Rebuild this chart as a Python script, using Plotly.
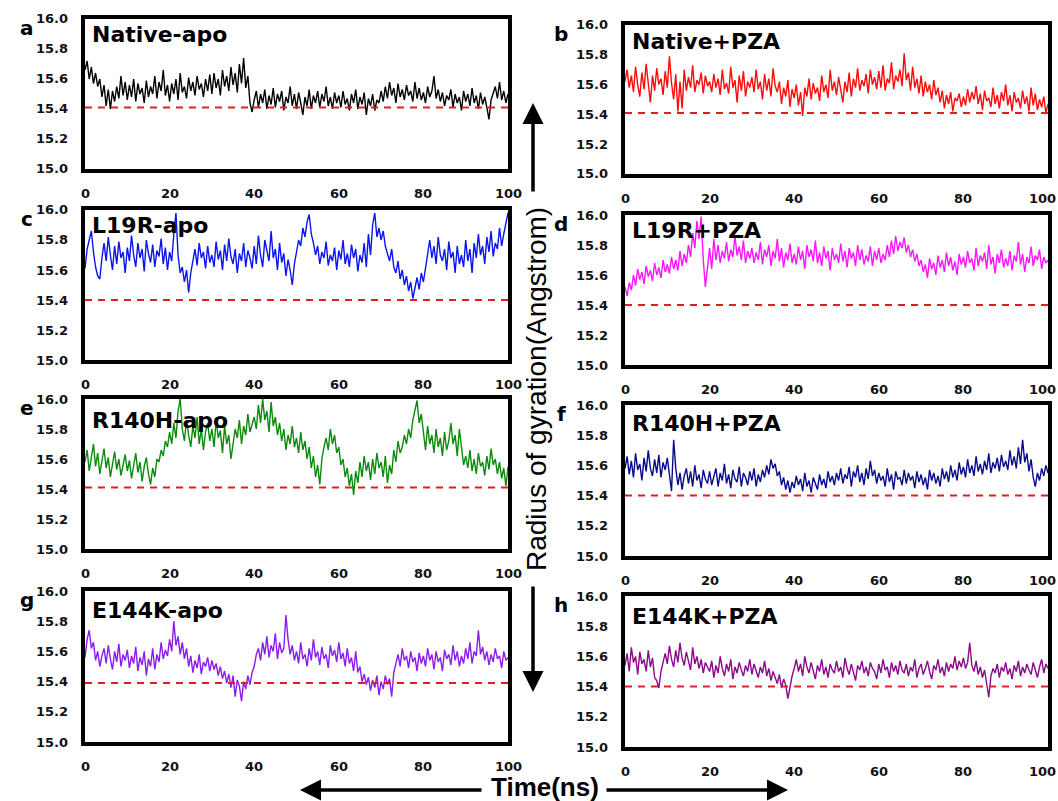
import numpy as np
import plotly.graph_objects as go

W, H = 1058, 801

# Radius of gyration (Angstrom) sampled every 0.5 ns over 0-100 ns
time_ns = np.arange(0, 100.25, 0.5)

native_apo = [
    15.66, 15.72, 15.60, 15.68, 15.57, 15.64, 15.55, 15.60, 15.48, 15.56, 15.42, 15.53, 15.40, 15.52, 15.45, 15.55, 15.47, 15.62, 15.49, 15.58,
    15.46, 15.56, 15.48, 15.60, 15.45, 15.57, 15.50, 15.54, 15.44, 15.59, 15.48, 15.55, 15.50, 15.62, 15.47, 15.58, 15.52, 15.66, 15.49, 15.56,
    15.45, 15.57, 15.50, 15.60, 15.46, 15.64, 15.51, 15.55, 15.47, 15.61, 15.52, 15.58, 15.49, 15.62, 15.53, 15.57, 15.48, 15.60, 15.52, 15.63,
    15.50, 15.64, 15.54, 15.60, 15.49, 15.66, 15.55, 15.62, 15.52, 15.68, 15.56, 15.64, 15.51, 15.70, 15.57, 15.74, 15.54, 15.62, 15.44, 15.38,
    15.46, 15.52, 15.41, 15.50, 15.44, 15.53, 15.40, 15.49, 15.43, 15.54, 15.41, 15.50, 15.45, 15.52, 15.39, 15.48, 15.44, 15.55, 15.42, 15.50,
    15.40, 15.51, 15.44, 15.36, 15.48, 15.42, 15.53, 15.40, 15.49, 15.44, 15.52, 15.41, 15.50, 15.45, 15.55, 15.42, 15.48, 15.40, 15.51, 15.44,
    15.49, 15.41, 15.52, 15.43, 15.47, 15.39, 15.50, 15.44, 15.53, 15.40, 15.48, 15.43, 15.51, 15.36, 15.47, 15.42, 15.50, 15.39, 15.46, 15.44,
    15.52, 15.45, 15.55, 15.47, 15.58, 15.49, 15.54, 15.44, 15.57, 15.48, 15.53, 15.46, 15.56, 15.49, 15.52, 15.45, 15.58, 15.47, 15.54, 15.46,
    15.51, 15.44, 15.55, 15.48, 15.52, 15.62, 15.47, 15.53, 15.45, 15.51, 15.42, 15.49, 15.46, 15.53, 15.41, 15.50, 15.44, 15.48, 15.39, 15.52,
    15.45, 15.50, 15.42, 15.54, 15.44, 15.49, 15.40, 15.51, 15.43, 15.48, 15.41, 15.33, 15.46, 15.50, 15.55, 15.47, 15.58, 15.46, 15.52, 15.44,
    15.50,
]

native_pza = [
    15.62, 15.70, 15.58, 15.66, 15.55, 15.72, 15.60, 15.52, 15.68, 15.57, 15.74, 15.59, 15.48, 15.66, 15.56, 15.71, 15.60, 15.64, 15.53, 15.69,
    15.58, 15.79, 15.61, 15.50, 15.67, 15.42, 15.62, 15.44, 15.70, 15.56, 15.65, 15.58, 15.73, 15.55, 15.63, 15.60, 15.68, 15.54, 15.66, 15.59,
    15.62, 15.55, 15.67, 15.58, 15.64, 15.53, 15.70, 15.57, 15.61, 15.54, 15.72, 15.58, 15.63, 15.48, 15.66, 15.56, 15.69, 15.52, 15.62, 15.58,
    15.65, 15.55, 15.70, 15.57, 15.62, 15.50, 15.67, 15.56, 15.64, 15.52, 15.71, 15.59, 15.55, 15.62, 15.47, 15.58, 15.52, 15.63, 15.45, 15.57,
    15.51, 15.60, 15.46, 15.55, 15.39, 15.58, 15.52, 15.64, 15.50, 15.61, 15.54, 15.58, 15.49, 15.66, 15.55, 15.60, 15.51, 15.70, 15.56, 15.62,
    15.53, 15.65, 15.57, 15.48, 15.62, 15.55, 15.68, 15.52, 15.64, 15.58, 15.71, 15.56, 15.63, 15.59, 15.67, 15.54, 15.70, 15.60, 15.65, 15.57,
    15.69, 15.58, 15.73, 15.56, 15.64, 15.61, 15.75, 15.57, 15.66, 15.62, 15.70, 15.59, 15.81, 15.63, 15.68, 15.56, 15.72, 15.58, 15.64, 15.54,
    15.66, 15.52, 15.62, 15.55, 15.60, 15.50, 15.63, 15.53, 15.58, 15.48, 15.56, 15.44, 15.53, 15.47, 15.55, 15.42, 15.51, 15.49, 15.54, 15.45,
    15.52, 15.46, 15.57, 15.48, 15.55, 15.50, 15.59, 15.47, 15.54, 15.43, 15.56, 15.49, 15.51, 15.45, 15.58, 15.47, 15.53, 15.44, 15.55, 15.49,
    15.60, 15.46, 15.53, 15.42, 15.55, 15.48, 15.51, 15.44, 15.56, 15.47, 15.52, 15.42, 15.58, 15.46, 15.54, 15.43, 15.50, 15.45, 15.52, 15.41,
    15.47,
]

l19r_apo = [
    15.61, 15.74, 15.80, 15.86, 15.72, 15.62, 15.56, 15.54, 15.68, 15.78, 15.66, 15.82, 15.70, 15.60, 15.76, 15.64, 15.79, 15.68, 15.72, 15.58,
    15.75, 15.66, 15.83, 15.70, 15.62, 15.78, 15.68, 15.74, 15.59, 15.80, 15.71, 15.65, 15.77, 15.62, 15.73, 15.69, 15.81, 15.64, 15.75, 15.60,
    15.72, 15.66, 15.84, 15.98, 15.70, 15.58, 15.62, 15.52, 15.60, 15.45, 15.58, 15.66, 15.74, 15.63, 15.78, 15.68, 15.72, 15.61, 15.76, 15.65,
    15.70, 15.62, 15.79, 15.67, 15.73, 15.60, 15.77, 15.66, 15.81, 15.69, 15.64, 15.74, 15.58, 15.71, 15.66, 15.78, 15.62, 15.73, 15.68, 15.61,
    15.76, 15.64, 15.83, 15.70, 15.62, 15.80, 15.72, 15.66, 15.86, 15.68, 15.74, 15.60, 15.78, 15.65, 15.71, 15.56, 15.67, 15.60, 15.50, 15.64,
    15.72, 15.80, 15.76, 15.88, 15.82, 15.92, 15.97, 15.84, 15.78, 15.70, 15.76, 15.64, 15.72, 15.68, 15.79, 15.63, 15.70, 15.66, 15.75, 15.60,
    15.73, 15.67, 15.80, 15.64, 15.71, 15.62, 15.77, 15.68, 15.74, 15.59, 15.70, 15.65, 15.78, 15.62, 15.84, 15.70, 15.90, 15.98, 15.82, 15.88,
    15.80, 15.86, 15.76, 15.70, 15.66, 15.74, 15.62, 15.58, 15.66, 15.54, 15.60, 15.50, 15.56, 15.46, 15.52, 15.41, 15.49, 15.55, 15.47, 15.58,
    15.52, 15.62, 15.72, 15.80, 15.68, 15.76, 15.64, 15.82, 15.70, 15.66, 15.74, 15.60, 15.79, 15.68, 15.72, 15.58, 15.76, 15.64, 15.70, 15.62,
    15.80, 15.66, 15.74, 15.58, 15.78, 15.68, 15.84, 15.70, 15.76, 15.64, 15.82, 15.72, 15.86, 15.69, 15.78, 15.74, 15.88, 15.76, 15.84, 15.90,
    15.98,
]

l19r_pza = [
    15.52, 15.46, 15.55, 15.50, 15.60, 15.53, 15.64, 15.57, 15.62, 15.54, 15.66, 15.59, 15.63, 15.56, 15.68, 15.60, 15.65, 15.58, 15.70, 15.62,
    15.67, 15.61, 15.72, 15.64, 15.70, 15.63, 15.76, 15.66, 15.74, 15.68, 15.80, 15.72, 15.88, 15.78, 15.96, 15.84, 15.99, 15.70, 15.52, 15.66,
    15.78, 15.64, 15.84, 15.70, 15.80, 15.68, 15.76, 15.71, 15.82, 15.69, 15.77, 15.72, 15.86, 15.73, 15.79, 15.70, 15.83, 15.68, 15.76, 15.71,
    15.78, 15.68, 15.75, 15.70, 15.82, 15.67, 15.77, 15.72, 15.80, 15.66, 15.76, 15.71, 15.84, 15.69, 15.78, 15.65, 15.75, 15.70, 15.81, 15.68,
    15.74, 15.67, 15.79, 15.70, 15.76, 15.64, 15.80, 15.72, 15.77, 15.69, 15.83, 15.68, 15.75, 15.66, 15.79, 15.71, 15.76, 15.63, 15.78, 15.70,
    15.74, 15.68, 15.81, 15.69, 15.76, 15.65, 15.78, 15.71, 15.75, 15.66, 15.80, 15.70, 15.77, 15.67, 15.73, 15.69, 15.79, 15.66, 15.76, 15.70,
    15.78, 15.68, 15.74, 15.70, 15.80, 15.72, 15.83, 15.74, 15.86, 15.76, 15.82, 15.78, 15.85, 15.75, 15.80, 15.72, 15.77, 15.69, 15.74, 15.66,
    15.70, 15.62, 15.67, 15.58, 15.71, 15.64, 15.68, 15.60, 15.73, 15.65, 15.70, 15.62, 15.75, 15.66, 15.72, 15.63, 15.69, 15.60, 15.74, 15.67,
    15.72, 15.65, 15.76, 15.68, 15.71, 15.63, 15.78, 15.66, 15.73, 15.69, 15.75, 15.64, 15.80, 15.67, 15.72, 15.61, 15.74, 15.68, 15.77, 15.65,
    15.71, 15.66, 15.76, 15.63, 15.73, 15.69, 15.82, 15.67, 15.74, 15.62, 15.72, 15.68, 15.79, 15.66, 15.73, 15.70, 15.77, 15.64, 15.72, 15.68,
    15.70,
]

r140h_apo = [
    15.58, 15.66, 15.52, 15.62, 15.70, 15.55, 15.64, 15.50, 15.60, 15.67, 15.54, 15.61, 15.48, 15.58, 15.65, 15.53, 15.60, 15.49, 15.57, 15.63,
    15.52, 15.59, 15.47, 15.56, 15.64, 15.51, 15.58, 15.45, 15.55, 15.61, 15.50, 15.43, 15.54, 15.48, 15.60, 15.58, 15.66, 15.62, 15.72, 15.68,
    15.78, 15.70, 15.84, 15.74, 15.92, 16.00, 15.80, 15.72, 15.86, 15.76, 15.68, 15.82, 15.74, 15.88, 15.70, 15.80, 15.66, 15.78, 15.84, 15.72,
    15.80, 15.68, 15.86, 15.74, 15.79, 15.64, 15.82, 15.70, 15.76, 15.60, 15.72, 15.80, 15.74, 15.86, 15.70, 15.82, 15.76, 15.90, 15.78, 15.84,
    15.88, 15.80, 15.96, 15.84, 16.00, 15.86, 15.92, 15.78, 15.98, 15.82, 15.88, 15.76, 15.84, 15.72, 15.80, 15.66, 15.76, 15.70, 15.82, 15.68,
    15.74, 15.64, 15.78, 15.66, 15.72, 15.60, 15.68, 15.54, 15.62, 15.48, 15.56, 15.43, 15.60, 15.68, 15.74, 15.66, 15.80, 15.70, 15.76, 15.64,
    15.68, 15.56, 15.60, 15.48, 15.54, 15.42, 15.50, 15.36, 15.52, 15.44, 15.58, 15.48, 15.62, 15.52, 15.58, 15.46, 15.60, 15.50, 15.64, 15.54,
    15.58, 15.48, 15.62, 15.44, 15.56, 15.50, 15.66, 15.58, 15.72, 15.64, 15.68, 15.76, 15.70, 15.80, 15.74, 15.86, 15.92, 15.99, 15.84, 15.90,
    15.78, 15.66, 15.82, 15.70, 15.76, 15.64, 15.80, 15.68, 15.74, 15.62, 15.78, 15.66, 15.72, 15.84, 15.70, 15.76, 15.62, 15.80, 15.68, 15.56,
    15.62, 15.54, 15.66, 15.52, 15.60, 15.50, 15.64, 15.55, 15.58, 15.49, 15.62, 15.53, 15.67, 15.56, 15.60, 15.50, 15.58, 15.47, 15.54, 15.42,
    15.55,
]

r140h_pza = [
    15.58, 15.66, 15.54, 15.63, 15.52, 15.68, 15.57, 15.61, 15.50, 15.65, 15.56, 15.70, 15.58, 15.53, 15.64, 15.55, 15.67, 15.52, 15.62, 15.57,
    15.65, 15.54, 15.43, 15.77, 15.58, 15.47, 15.55, 15.44, 15.53, 15.58, 15.48, 15.56, 15.46, 15.60, 15.50, 15.54, 15.45, 15.57, 15.51, 15.48,
    15.56, 15.47, 15.53, 15.58, 15.46, 15.55, 15.50, 15.61, 15.48, 15.54, 15.45, 15.57, 15.51, 15.49, 15.59, 15.46, 15.55, 15.52, 15.47, 15.56,
    15.50, 15.58, 15.46, 15.54, 15.49, 15.57, 15.52, 15.60, 15.54, 15.64, 15.58, 15.61, 15.53, 15.56, 15.47, 15.52, 15.44, 15.50, 15.42, 15.49,
    15.45, 15.53, 15.47, 15.51, 15.43, 15.55, 15.46, 15.50, 15.42, 15.52, 15.48, 15.44, 15.54, 15.47, 15.51, 15.45, 15.56, 15.49, 15.53, 15.47,
    15.55, 15.50, 15.58, 15.48, 15.54, 15.51, 15.59, 15.46, 15.56, 15.52, 15.60, 15.49, 15.55, 15.47, 15.58, 15.51, 15.63, 15.53, 15.57, 15.48,
    15.55, 15.50, 15.53, 15.46, 15.58, 15.49, 15.54, 15.44, 15.56, 15.51, 15.52, 15.47, 15.57, 15.48, 15.55, 15.50, 15.53, 15.45, 15.56, 15.49,
    15.54, 15.47, 15.52, 15.44, 15.57, 15.50, 15.55, 15.48, 15.53, 15.46, 15.58, 15.51, 15.56, 15.49, 15.60, 15.52, 15.57, 15.50, 15.62, 15.54,
    15.59, 15.52, 15.64, 15.55, 15.60, 15.53, 15.66, 15.56, 15.61, 15.54, 15.63, 15.57, 15.68, 15.55, 15.62, 15.58, 15.65, 15.56, 15.67, 15.59,
    15.63, 15.57, 15.70, 15.60, 15.66, 15.58, 15.72, 15.61, 15.77, 15.62, 15.68, 15.56, 15.64, 15.52, 15.46, 15.55, 15.50, 15.58, 15.53, 15.60,
    15.55,
]

e144k_apo = [
    15.56, 15.68, 15.74, 15.62, 15.66, 15.54, 15.60, 15.50, 15.57, 15.62, 15.52, 15.64, 15.55, 15.48, 15.60, 15.53, 15.65, 15.50, 15.58, 15.54,
    15.61, 15.49, 15.57, 15.52, 15.63, 15.47, 15.56, 15.51, 15.60, 15.44, 15.55, 15.50, 15.62, 15.48, 15.58, 15.53, 15.66, 15.55, 15.61, 15.57,
    15.68, 15.60, 15.80, 15.64, 15.70, 15.58, 15.66, 15.55, 15.62, 15.50, 15.57, 15.46, 15.54, 15.49, 15.58, 15.45, 15.53, 15.50, 15.56, 15.47,
    15.54, 15.48, 15.52, 15.44, 15.50, 15.42, 15.47, 15.39, 15.45, 15.36, 15.44, 15.30, 15.41, 15.37, 15.27, 15.40, 15.35, 15.44, 15.38, 15.46,
    15.50, 15.58, 15.62, 15.54, 15.66, 15.58, 15.70, 15.56, 15.64, 15.60, 15.72, 15.55, 15.66, 15.59, 15.62, 15.84, 15.68, 15.58, 15.64, 15.54,
    15.60, 15.52, 15.66, 15.55, 15.58, 15.50, 15.62, 15.54, 15.68, 15.56, 15.60, 15.51, 15.63, 15.55, 15.58, 15.49, 15.64, 15.57, 15.61, 15.53,
    15.66, 15.55, 15.59, 15.50, 15.62, 15.52, 15.56, 15.47, 15.60, 15.46, 15.50, 15.40, 15.45, 15.38, 15.43, 15.34, 15.41, 15.36, 15.44, 15.31,
    15.40, 15.35, 15.44, 15.38, 15.42, 15.30, 15.46, 15.52, 15.58, 15.50, 15.62, 15.54, 15.57, 15.49, 15.60, 15.53, 15.56, 15.47, 15.59, 15.52,
    15.57, 15.50, 15.62, 15.54, 15.58, 15.48, 15.60, 15.53, 15.56, 15.47, 15.61, 15.55, 15.58, 15.51, 15.64, 15.54, 15.60, 15.50, 15.57, 15.52,
    15.62, 15.55, 15.66, 15.52, 15.60, 15.57, 15.74, 15.58, 15.63, 15.54, 15.60, 15.51, 15.58, 15.53, 15.62, 15.55, 15.57, 15.49, 15.60, 15.54,
    15.56,
]

e144k_pza = [
    15.54, 15.62, 15.50, 15.66, 15.56, 15.60, 15.48, 15.63, 15.55, 15.58, 15.50, 15.64, 15.53, 15.59, 15.46, 15.44, 15.39, 15.50, 15.56, 15.62,
    15.55, 15.67, 15.58, 15.53, 15.64, 15.56, 15.69, 15.59, 15.54, 15.63, 15.57, 15.51, 15.66, 15.55, 15.60, 15.52, 15.58, 15.49, 15.56, 15.53,
    15.50, 15.57, 15.46, 15.54, 15.49, 15.60, 15.52, 15.47, 15.55, 15.50, 15.58, 15.45, 15.53, 15.49, 15.56, 15.51, 15.47, 15.54, 15.50, 15.58,
    15.48, 15.55, 15.51, 15.46, 15.53, 15.49, 15.57, 15.47, 15.52, 15.44, 15.50, 15.46, 15.42, 15.48, 15.39, 15.45, 15.41, 15.32, 15.40, 15.47,
    15.52, 15.58, 15.50, 15.55, 15.47, 15.60, 15.53, 15.49, 15.56, 15.51, 15.45, 15.54, 15.50, 15.58, 15.48, 15.53, 15.46, 15.55, 15.51, 15.49,
    15.57, 15.50, 15.53, 15.46, 15.59, 15.52, 15.48, 15.55, 15.50, 15.44, 15.54, 15.51, 15.57, 15.49, 15.53, 15.47, 15.56, 15.52, 15.50, 15.45,
    15.55, 15.49, 15.58, 15.51, 15.53, 15.46, 15.56, 15.50, 15.54, 15.48, 15.57, 15.51, 15.49, 15.55, 15.47, 15.53, 15.50, 15.58, 15.46, 15.52,
    15.55, 15.48, 15.52, 15.57, 15.50, 15.45, 15.54, 15.51, 15.58, 15.49, 15.53, 15.47, 15.56, 15.50, 15.55, 15.52, 15.60, 15.51, 15.57, 15.53,
    15.59, 15.52, 15.56, 15.69, 15.54, 15.50, 15.57, 15.48, 15.53, 15.46, 15.51, 15.42, 15.33, 15.47, 15.52, 15.49, 15.55, 15.46, 15.53, 15.50,
    15.56, 15.48, 15.52, 15.45, 15.54, 15.50, 15.57, 15.47, 15.53, 15.49, 15.55, 15.51, 15.48, 15.56, 15.50, 15.46, 15.53, 15.58, 15.49, 15.55,
    15.52,
]

# reference level (Angstrom) marked by the dashed line in each panel
ref_levels = [15.41, 15.41, 15.40, 15.40, 15.41, 15.40, 15.39, 15.40]

panel_letters = ["a", "b", "c", "d", "e", "f", "g", "h"]
panel_titles = ["Native-apo", "Native+PZA", "L19R-apo", "L19R+PZA",
                "R140H-apo", "R140H+PZA", "E144K-apo", "E144K+PZA"]
series = [native_apo, native_pza, l19r_apo, l19r_pza,
          r140h_apo, r140h_pza, e144k_apo, e144k_pza]

x_major = [0, 20, 40, 60, 80, 100]
x_minor = [10, 30, 50, 70, 90]
y_major = [15.0, 15.2, 15.4, 15.6, 15.8, 16.0]
y_minor = [15.1, 15.3, 15.5, 15.7, 15.9]

# ---- styling / layout ----
colors = ["#000000", "#ff0a0a", "#0a14f0", "#ff14ff",
          "#0a8a0a", "#0a0a8c", "#8a1cf0", "#8a0a8a"]

# plot frames in pixels: (left, right, top, bottom)
boxes = [
    (85, 508, 19, 169), (625, 1048, 25, 174),
    (85, 508, 210, 360), (625, 1048, 215, 365),
    (85, 508, 399, 549), (625, 1048, 405, 556),
    (85, 508, 591, 742), (625, 1048, 596, 747),
]
# cap-top pixel row of each panel title
title_tops = [30, 37, 221, 226, 416, 419, 606, 612]

TICK_FONT = dict(family="DejaVu Sans", size=13, color="#111111", weight="bold")
MAJOR_LEN, MINOR_LEN = 12, 6

fig = go.Figure()
annotations = []

for i in range(8):
    n = i + 1
    xs = "x" if n == 1 else f"x{n}"
    ys = "y" if n == 1 else f"y{n}"
    left, right, top, bottom = boxes[i]
    x_lo, x_hi = x_major[0], x_major[-1]
    y_lo, y_hi = y_major[0], y_major[-1]
    # data units per screen pixel on this panel
    ux = (x_hi - x_lo) / (right - left)
    uy = (y_hi - y_lo) / (bottom - top)

    fig.add_trace(go.Scatter(
        x=time_ns, y=series[i], mode="lines",
        line=dict(color=colors[i], width=1.4),
        xaxis=xs, yaxis=ys, showlegend=False, hoverinfo="skip",
    ))
    fig.add_trace(go.Scatter(
        x=[x_lo, x_hi], y=[ref_levels[i], ref_levels[i]], mode="lines",
        line=dict(color="#e02020", width=2, dash="7px,6px"),
        xaxis=xs, yaxis=ys, showlegend=False, hoverinfo="skip",
    ))

    # tick marks drawn as line-shaped markers hanging outside the frame
    for vals, ln, wd in [(x_major, MAJOR_LEN, 3.5), (x_minor, MINOR_LEN, 3)]:
        fig.add_trace(go.Scatter(
            x=vals, y=[y_lo - ln / 2 * uy] * len(vals), mode="markers",
            marker=dict(symbol="line-ns", size=ln, color="black",
                        line=dict(color="black", width=wd)),
            cliponaxis=False, xaxis=xs, yaxis=ys, showlegend=False, hoverinfo="skip",
        ))
    for vals, ln, wd in [(y_major, MAJOR_LEN, 3.5), (y_minor, MINOR_LEN, 3)]:
        fig.add_trace(go.Scatter(
            x=[x_lo - ln / 2 * ux] * len(vals), y=vals, mode="markers",
            marker=dict(symbol="line-ew", size=ln, color="black",
                        line=dict(color="black", width=wd)),
            cliponaxis=False, xaxis=xs, yaxis=ys, showlegend=False, hoverinfo="skip",
        ))

    frame = dict(showline=True, linewidth=3.5, linecolor="black", mirror=True,
                 ticks="", showticklabels=False, showgrid=False, zeroline=False)
    fig.layout[f"xaxis{'' if n == 1 else n}"] = dict(
        domain=[left / W, right / W], anchor=ys, range=[x_lo, x_hi], **frame)
    fig.layout[f"yaxis{'' if n == 1 else n}"] = dict(
        domain=[1 - bottom / H, 1 - top / H], anchor=xs, range=[y_lo, y_hi], **frame)

    # tick labels
    for v in x_major:
        last_right = (v == x_hi and left > 500)
        annotations.append(dict(text=str(v), xref=xs, yref=f"{ys} domain",
                                x=v, y=0, xanchor="right" if last_right else "center",
                                xshift=10 if last_right else 0,
                                yanchor="top", yshift=-15,
                                showarrow=False, font=TICK_FONT))
    for v in y_major:
        annotations.append(dict(text=f"{v:.1f}", xref=f"{xs} domain", yref=ys,
                                x=0, y=v, xanchor="right", yanchor="middle", xshift=-15,
                                showarrow=False, font=TICK_FONT))

    # panel title inside the frame
    annotations.append(dict(
        text=panel_titles[i], xref="paper", yref="paper",
        x=(left + 5) / W, y=1 - (title_tops[i] - 10) / H, xanchor="left", yanchor="top",
        showarrow=False,
        font=dict(family="DejaVu Sans", size=22, color="black", weight="bold"),
    ))
    # panel letter
    lx = 27 if left < 500 else 561
    annotations.append(dict(
        text=panel_letters[i], xref="paper", yref="paper",
        x=lx / W, y=1 - (top + 9) / H, xanchor="center", yanchor="middle",
        showarrow=False,
        font=dict(family="DejaVu Sans", size=20, color="black", weight="bold"),
    ))

# shared axis titles with arrows
annotations.append(dict(
    text="Radius of gyration(Angstrom)", xref="paper", yref="paper",
    x=536 / W, y=1 - 389 / H, xanchor="center", yanchor="middle",
    textangle=-90, showarrow=False,
    font=dict(family="Liberation Sans", size=28, color="black"),
))
annotations.append(dict(
    text="Time(ns)", xref="paper", yref="paper",
    x=545 / W, y=1 - 787 / H, xanchor="center", yanchor="middle",
    showarrow=False,
    font=dict(family="Liberation Sans", size=26, color="black", weight="bold"),
))
arrow_style = dict(xref="paper", yref="paper", axref="pixel", ayref="pixel",
                   showarrow=True, arrowhead=2, arrowsize=1.2, arrowwidth=3.5,
                   arrowcolor="black", text="")
annotations.append(dict(x=533 / W, y=1 - 103 / H, ax=0, ay=90, **arrow_style))
annotations.append(dict(x=533 / W, y=1 - 692 / H, ax=0, ay=-107, **arrow_style))
annotations.append(dict(x=300 / W, y=1 - 790 / H, ax=183, ay=0, **arrow_style))
annotations.append(dict(x=788 / W, y=1 - 790 / H, ax=-183, ay=0, **arrow_style))

fig.update_layout(
    template="none",
    width=W, height=H, margin=dict(l=0, r=0, t=0, b=0),
    annotations=annotations, showlegend=False,
)

fig.write_html("out.html")
